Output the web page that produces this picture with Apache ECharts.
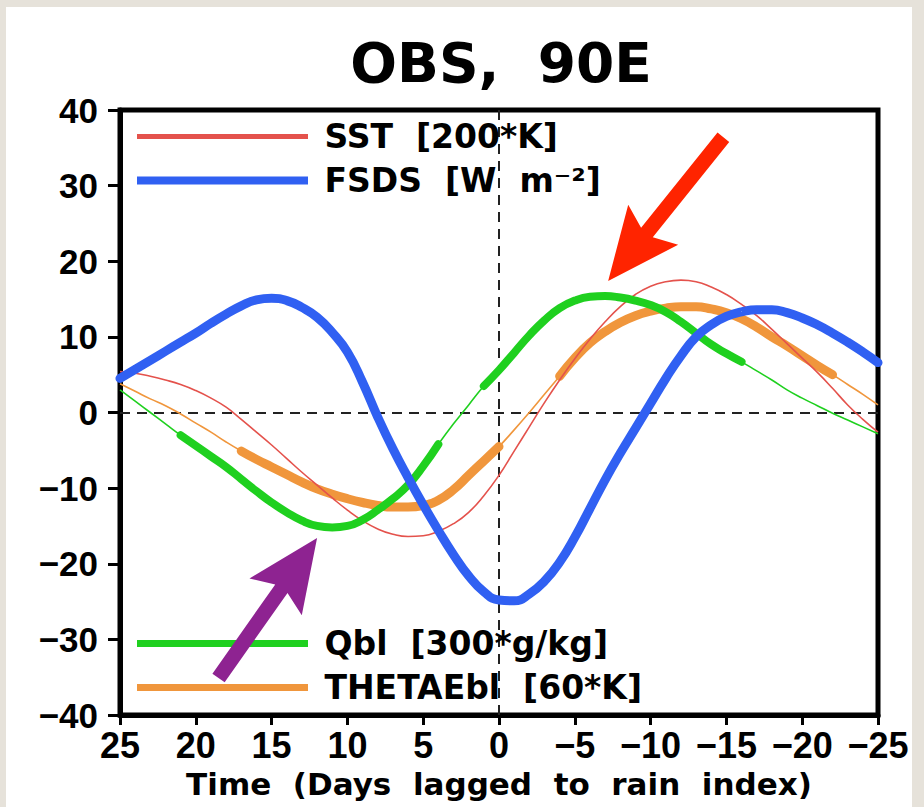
<!DOCTYPE html>
<html>
<head>
<meta charset="utf-8">
<script src="https://cdn.jsdelivr.net/npm/echarts/dist/echarts.min.js"></script>
<style>
  html, body { margin: 0; padding: 0; width: 924px; height: 807px; background: #e6e2da; overflow: hidden; }
  #chart { position: absolute; left: 6px; top: 7px; width: 906px; height: 800px; background: #ffffff; }
</style>
</head>
<body>
<div id="chart"></div>
<script>
// ---- data ----
const days = [25,24,23,22,21,20,19,18,17,16,15,14,13,12,11,10,9,8,7,6,5,4,3,2,1,0,
  -1,-2,-3,-4,-5,-6,-7,-8,-9,-10,-11,-12,-13,-14,-15,-16,-17,-18,-19,-20,-21,-22,-23,-24,-25];

const sst = [5.4,5.2,4.8,4.3,3.7,2.9,1.9,0.7,-0.9,-2.6,-4.3,-6.1,-7.9,-9.6,-11.3,-12.9,-14.3,-15.4,-16.1,-16.4,-16.3,-15.7,-14.7,-13.2,-11.0,-8.3,
  -5.1,-1.9,1.3,4.3,7.1,9.7,12.0,14.0,15.6,16.7,17.3,17.5,17.3,16.6,15.6,14.3,12.8,11.0,9.1,7.2,5.3,3.2,1.0,-0.9,-2.6];

const fsds = [4.5,5.7,6.9,8.1,9.3,10.5,11.8,13.0,14.1,14.9,15.1,14.8,13.9,12.6,10.6,8.0,4.0,-0.6,-4.8,-8.6,-12.2,-15.6,-18.8,-21.6,-23.7,-24.8,
  -24.9,-24.0,-22.3,-19.8,-16.5,-12.7,-8.9,-5.4,-2.1,1.2,4.5,7.5,10.0,11.6,12.7,13.3,13.6,13.6,13.2,12.5,11.6,10.5,9.3,8.0,6.6];

const qbl = [3.0,1.5,0.0,-1.5,-3.0,-4.4,-5.8,-7.2,-8.8,-10.4,-11.9,-13.2,-14.3,-15.0,-15.2,-15.0,-14.2,-12.9,-11.4,-9.6,-7.1,-4.2,-1.5,1.0,3.5,5.6,
  7.9,10.2,12.2,13.8,14.8,15.3,15.4,15.2,14.8,14.2,13.3,12.0,10.5,9.0,7.8,6.7,5.5,4.3,3.0,1.9,0.9,-0.1,-1.0,-1.9,-2.8];

const thetae = [3.8,2.8,1.8,0.9,-0.2,-1.4,-2.6,-3.9,-5.1,-6.2,-7.2,-8.2,-9.2,-10.1,-10.8,-11.4,-11.9,-12.3,-12.5,-12.5,-12.3,-11.6,-10.2,-8.3,-6.4,-4.5,
  -2.3,0.0,2.4,4.8,7.2,9.2,10.7,11.9,12.8,13.4,13.8,14.0,14.0,13.7,13.2,12.4,11.3,10.0,8.8,7.5,6.2,5.0,3.7,2.4,1.0];

// day ranges (from, to) drawn with a thick line
const qblThick = [[21, 4], [1, -16]];
const thetaeThick = [[17, 0], [-4, -22]];

const seriesNames = ['SST', 'FSDS', 'Qbl', 'THETAEbl'];
const legendLabels = ['SST\u00a0\u00a0[200*K]', 'FSDS\u00a0\u00a0[W\u00a0\u00a0m\u207b\u00b2]',
                      'Qbl\u00a0\u00a0[300*g/kg]', 'THETAEbl\u00a0\u00a0[60*K]'];
const titleText = 'OBS,\u00a0\u00a090E';
const xAxisTitle = 'Time\u00a0\u00a0(Days\u00a0\u00a0lagged\u00a0\u00a0to\u00a0\u00a0rain\u00a0\u00a0index)';
const xTickValues = [25,20,15,10,5,0,-5,-10,-15,-20,-25];
const xTickLabels = ['25','20','15','10','5','0','\u22125','\u221210','\u221215','\u221220','\u221225'];
const yTickValues = [-40,-30,-20,-10,0,10,20,30,40];
const yTickLabels = ['\u221240','\u221230','\u221220','\u221210','0','10','20','30','40'];

// ---- helpers ----
const pairs = vals => days.map((d, i) => [d, vals[i]]);
const thickPairs = (vals, ranges) => days.map((d, i) =>
  [d, ranges.some(r => d <= r[0] && d >= r[1]) ? vals[i] : null]);

const C = { SST: '#e4524c', FSDS: '#3060f2', Qbl: '#1fd01f', THETAEbl: '#f0963c' };
const SMOOTH = 0.5;

const chart = echarts.init(document.getElementById('chart'), null, { renderer: 'svg' });

const legendFont = { fontFamily: 'DejaVu Sans', fontWeight: 'bold', fontSize: 33, color: '#000', lineHeight: 33 };
function mkLegend(idx, top, thick) {
  return {
    left: 131, top: top, padding: 0, orient: 'vertical', selectedMode: false,
    icon: 'rect', itemWidth: 171, itemHeight: thick,
    data: [seriesNames[idx]],
    formatter: () => '\u00a0' + legendLabels[idx],
    textStyle: legendFont
  };
}

const option = {
  animation: false,
  title: {
    text: titleText, left: 495, top: 28, padding: 0, textAlign: 'center',
    textStyle: { fontFamily: 'DejaVu Sans', fontWeight: 'bold', fontSize: 55, color: '#000' }
  },
  legend: [
    mkLegend(0, 113, 5),
    mkLegend(1, 157, 8),
    mkLegend(2, 620, 7),
    mkLegend(3, 664, 7)
  ],
  grid: { left: 114, right: 34, top: 103, bottom: 92, show: true, borderColor: '#000', borderWidth: 5, backgroundColor: 'transparent' },
  xAxis: {
    type: 'value', min: -25, max: 25, interval: 5, inverse: true,
    splitLine: { show: false },
    axisLine: { onZero: false, lineStyle: { color: '#000', width: 5 } },
    axisTick: { length: 10, lineStyle: { color: '#000', width: 3 } },
    axisLabel: {
      margin: 12, showMinLabel: true, showMaxLabel: true,
      fontFamily: 'Liberation Sans', fontWeight: 'bold', fontSize: 36, color: '#000',
      formatter: v => xTickLabels[xTickValues.indexOf(v)]
    },
    name: xAxisTitle, nameLocation: 'middle', nameGap: 52,
    nameTextStyle: { fontFamily: 'DejaVu Sans', fontWeight: 'bold', fontSize: 31, color: '#000', lineHeight: 32 }
  },
  yAxis: {
    type: 'value', min: -40, max: 40, interval: 10,
    splitLine: { show: false },
    axisLine: { onZero: false, lineStyle: { color: '#000', width: 5 } },
    axisTick: { length: 12, lineStyle: { color: '#000', width: 3 } },
    axisLabel: {
      margin: 22, showMinLabel: true, showMaxLabel: true,
      fontFamily: 'Liberation Sans', fontWeight: 'bold', fontSize: 35, color: '#000',
      formatter: v => yTickLabels[yTickValues.indexOf(v)]
    }
  },
  series: [
    {
      name: 'zero', type: 'line', data: [], silent: true,
      markLine: {
        silent: true, z: 1, symbol: ['none', 'none'], label: { show: false },
        lineStyle: { color: '#222', width: 2, type: [10, 7] },
        emphasis: { disabled: true },
        data: [{ yAxis: 0 }, { xAxis: 0 }]
      }
    },
    { name: 'THETAEbl', type: 'line', color: C.THETAEbl, data: pairs(thetae), showSymbol: false, smooth: SMOOTH,
      lineStyle: { width: 1.6, color: C.THETAEbl } },
    { name: 'THETAEbl', type: 'line', color: C.THETAEbl, data: thickPairs(thetae, thetaeThick), showSymbol: false, smooth: SMOOTH,
      lineStyle: { width: 9, color: C.THETAEbl, cap: 'round' } },
    { name: 'SST', type: 'line', color: C.SST, data: pairs(sst), showSymbol: false, smooth: SMOOTH,
      lineStyle: { width: 1.6, color: C.SST } },
    { name: 'Qbl', type: 'line', color: C.Qbl, data: pairs(qbl), showSymbol: false, smooth: SMOOTH,
      lineStyle: { width: 1.6, color: C.Qbl } },
    { name: 'Qbl', type: 'line', color: C.Qbl, data: thickPairs(qbl, qblThick), showSymbol: false, smooth: SMOOTH,
      lineStyle: { width: 8, color: C.Qbl, cap: 'round' } },
    { name: 'FSDS', type: 'line', color: C.FSDS, data: pairs(fsds), showSymbol: false, smooth: SMOOTH,
      lineStyle: { width: 9, color: C.FSDS, cap: 'round' } }
  ]
};
chart.setOption(option);

// ---- annotation arrows, anchored in data coordinates ----
const arrows = [
  { tail: [-14.8, 36.4], tip: [-7.2, 17.4], color: '#ff2400' },
  { tail: [18.5, -35.1], tip: [12.0, -16.6], color: '#8e2391' }
];
function arrowPoints(tailD, tipD) {
  const T = chart.convertToPixel({ gridIndex: 0 }, tailD);
  const P = chart.convertToPixel({ gridIndex: 0 }, tipD);
  const dx = P[0] - T[0], dy = P[1] - T[1];
  const len = Math.hypot(dx, dy);
  const u = [dx / len, dy / len], n = [-u[1], u[0]];
  const L = 62, H = 32, w = 7.5, sweep = 10;
  const B = [P[0] - u[0] * L, P[1] - u[1] * L];
  const Bb = [B[0] - u[0] * sweep, B[1] - u[1] * sweep];
  const pt = (o, a, b) => [o[0] + n[0] * a + u[0] * b, o[1] + n[1] * a + u[1] * b];
  return [P, pt(Bb, H, 0), pt(B, w, 0), pt(T, w, 0), pt(T, -w, 0), pt(B, -w, 0), pt(Bb, -H, 0)];
}
chart.setOption({
  graphic: arrows.map(a => ({
    type: 'polygon', z: 100, silent: true,
    shape: { points: arrowPoints(a.tail, a.tip) },
    style: { fill: a.color }
  }))
});
</script>
</body>
</html>
